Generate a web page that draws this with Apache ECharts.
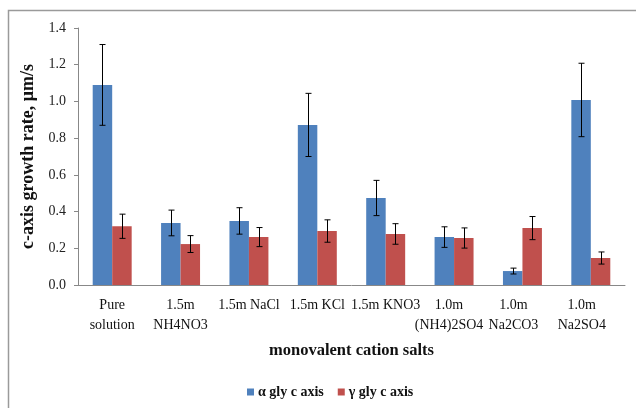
<!DOCTYPE html>
<html>
<head>
<meta charset="utf-8">
<script src="https://cdn.jsdelivr.net/npm/echarts@6/dist/echarts.min.js"></script>
<style>
  html, body { margin: 0; padding: 0; background: #fff; }
  #main { width: 636px; height: 408px; }
</style>
</head>
<body>
<div id="main"></div>
<script>
// categories and values
var categories = ['Pure\nsolution', '1.5m\nNH4NO3', '1.5m NaCl', '1.5m KCl', '1.5m KNO3', '1.0m\n(NH4)2SO4', '1.0m\nNa2CO3', '1.0m\nNa2SO4'];
var alphaVals = [1.09, 0.338, 0.349, 0.872, 0.474, 0.261, 0.076, 1.008];
var alphaErr  = [0.22, 0.07, 0.072, 0.172, 0.096, 0.056, 0.016, 0.2];
var gammaVals = [0.32, 0.223, 0.261, 0.294, 0.278, 0.256, 0.31, 0.147];
var gammaErr  = [0.066, 0.046, 0.052, 0.061, 0.056, 0.055, 0.063, 0.033];

// last few labels sit a little left of their bars in the original (px)
var labelShift = [0, 0, 0, 0, 0, 5, 9, 9];

(function () {
  var myChart = echarts.init(document.getElementById('main'));
  var serif = '"Liberation Serif", "DejaVu Serif", serif';
  var BAR = 0.285; // bar width as share of category band

  function errData(vals, errs) {
    return vals.map(function (v, i) { return [i, v - errs[i], v + errs[i]]; });
  }

  // error bar renderer, side = -1 for left bar, +1 for right bar
  function errRender(side) {
    return function (params, api) {
      var idx = api.value(0);
      var band = api.size([1, 0])[0];
      var dx = side * band * BAR / 2;
      var lo = api.coord([idx, api.value(1)]);
      var hi = api.coord([idx, api.value(2)]);
      var x = Math.round(lo[0] + dx) + 0.5;
      var cap = 3;
      var st = { stroke: '#000', lineWidth: 1 };
      return {
        type: 'group',
        children: [
          { type: 'line', shape: { x1: x, y1: lo[1], x2: x, y2: hi[1] }, style: st },
          { type: 'line', shape: { x1: x - cap, y1: lo[1], x2: x + cap, y2: lo[1] }, style: st },
          { type: 'line', shape: { x1: x - cap, y1: hi[1], x2: x + cap, y2: hi[1] }, style: st }
        ]
      };
    };
  }

  var catData = categories.map(function (c, i) {
    return { value: c, textStyle: { padding: [0, labelShift[i] * 2, 0, 0] } };
  });

  var option = {
    animation: false,
    backgroundColor: '#fff',
    graphic: [{
      type: 'polyline',
      shape: { points: [[8.5, 408], [8.5, 10.5], [636, 10.5]] },
      style: { stroke: '#9a9a9a', lineWidth: 1.5, fill: null }
    }],
    grid: { left: 78, right: 11, top: 28, bottom: 123, containLabel: false, outerBoundsMode: 'none' },
    legend: {
      bottom: 4,
      left: 242,
      itemWidth: 7,
      itemHeight: 7,
      itemGap: 14,
      icon: 'rect',
      data: ['α gly c axis', 'γ gly c axis'],
      textStyle: { fontFamily: serif, fontSize: 14, fontWeight: 'bold', color: '#111', padding: [0, 0, 0, -1] }
    },
    xAxis: {
      type: 'category',
      data: catData,
      name: 'monovalent cation salts',
      nameLocation: 'middle',
      nameGap: 57,
      nameTextStyle: { fontFamily: serif, fontSize: 16.5, fontWeight: 'bold', color: '#111' },
      axisLine: { lineStyle: { color: '#888', width: 1 } },
      axisTick: { show: false },
      axisLabel: {
        interval: 0, hideOverlap: false, margin: 10, fontFamily: serif, fontSize: 14, color: '#111',
        lineHeight: 20, verticalAlign: 'top'
      }
    },
    yAxis: {
      type: 'value',
      min: 0,
      max: 1.4,
      interval: 0.2,
      name: 'c-axis growth rate, μm/s',
      nameLocation: 'middle',
      nameGap: 38,
      nameTextStyle: { fontFamily: serif, fontSize: 18, fontWeight: 'bold', color: '#111' },
      splitLine: { show: false },
      axisLine: { show: true, lineStyle: { color: '#888', width: 1 } },
      axisTick: { show: true, length: 4, lineStyle: { color: '#888' } },
      axisLabel: {
        margin: 12, fontFamily: serif, fontSize: 14, color: '#222',
        formatter: function (v) { return v.toFixed(1); }
      }
    },
    series: [
      {
        name: 'α gly c axis', type: 'bar', data: alphaVals,
        barWidth: (BAR * 100) + '%', barGap: '0%',
        itemStyle: { color: '#4f81bd' }
      },
      {
        name: 'γ gly c axis', type: 'bar', data: gammaVals,
        barWidth: (BAR * 100) + '%', barGap: '0%',
        itemStyle: { color: '#c0504d' }
      },
      {
        type: 'custom', name: 'errA', renderItem: errRender(-1),
        data: errData(alphaVals, alphaErr), z: 10,
        encode: { x: 0, y: [1, 2] }
      },
      {
        type: 'custom', name: 'errG', renderItem: errRender(1),
        data: errData(gammaVals, gammaErr), z: 10,
        encode: { x: 0, y: [1, 2] }
      }
    ]
  };

  myChart.setOption(option);
})();
</script>
</body>
</html>
